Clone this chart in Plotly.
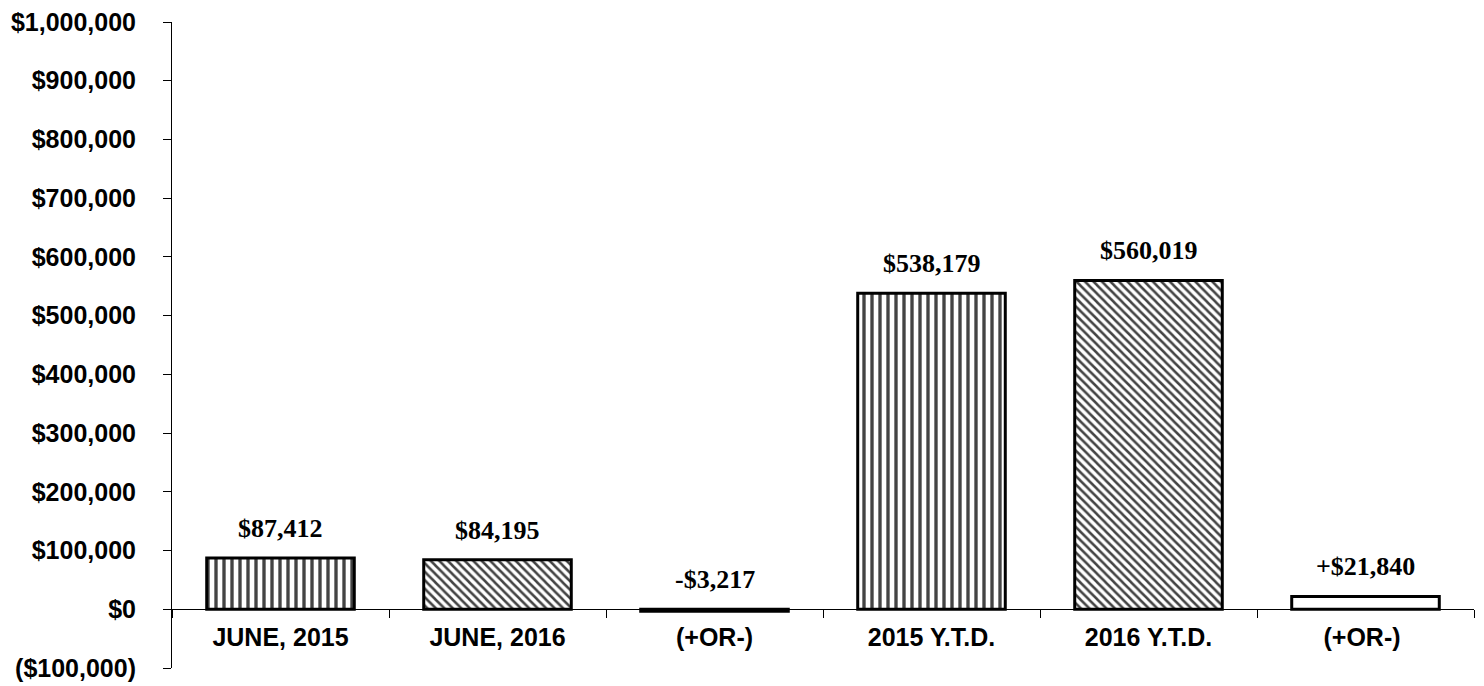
import plotly.graph_objects as go

categories = ["JUNE, 2015", "JUNE, 2016", "(+OR-)", "2015 Y.T.D.", "2016 Y.T.D.", "(+OR-) "]
values = [87412, 84195, -3217, 538179, 560019, 21840]
value_labels = ["$87,412", "$84,195", "-$3,217", "$538,179", "$560,019", "+$21,840"]
patterns = ["|", "\\", "", "|", "\\", ""]
pattern_sizes = [8, 6, 8, 8, 6, 8]
fills = ["white", "white", "black", "white", "white", "white"]
y_tick_vals = [-100000, 0, 100000, 200000, 300000, 400000, 500000, 600000, 700000, 800000, 900000, 1000000]
y_tick_text = ["($100,000)", "$0", "$100,000", "$200,000", "$300,000", "$400,000", "$500,000",
               "$600,000", "$700,000", "$800,000", "$900,000", "$1,000,000"]

fig = go.Figure()
fig.add_trace(go.Bar(
    x=categories, y=values,
    marker=dict(
        color=fills,
        line=dict(color="black", width=3),
        pattern=dict(shape=patterns, fgcolor="black", bgcolor="white", fgopacity=1,
                     size=pattern_sizes, solidity=0.42, fillmode="overlay"),
    ),
    showlegend=False, hoverinfo="skip",
))

for c, v, t in zip(categories, values, value_labels):
    fig.add_annotation(x=c, y=max(v, 0), text=t, showarrow=False, yanchor="bottom", yshift=13,
                       font=dict(family="Liberation Serif", size=26, color="black", weight="bold"))

ymin, ymax = -100000, 1000000
fig.update_layout(
    width=1484, height=686,
    margin=dict(l=164, r=18, t=14, b=26),
    paper_bgcolor="white", plot_bgcolor="white",
    bargap=0.32,
    xaxis=dict(
        type="category", categoryorder="array", categoryarray=categories,
        range=[-0.5, 5.5], automargin=False,
        anchor="free", position=(0 - ymin) / (ymax - ymin),
        showline=True, linecolor="black", linewidth=1,
        ticks="outside", ticklen=8, tickcolor="black", tickson="boundaries",
        showgrid=False, zeroline=False,
        ticklabelstandoff=6, ticklabeloverflow="allow",
        tickfont=dict(family="Liberation Sans", size=25, color="black", weight="bold"),
    ),
    yaxis=dict(
        range=[ymin, ymax], tickvals=y_tick_vals, ticktext=y_tick_text, automargin=False,
        showline=True, linecolor="black", linewidth=1,
        ticks="outside", ticklen=8, tickcolor="black",
        showgrid=False, zeroline=False,
        ticklabelstandoff=22, ticklabeloverflow="allow",
        tickfont=dict(family="Liberation Sans", size=25, color="black", weight="bold"),
    ),
)

fig.write_html("out.html")
